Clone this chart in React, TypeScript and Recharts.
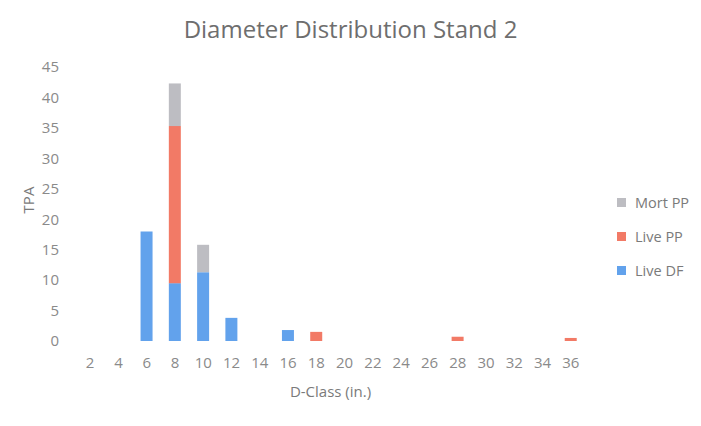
import React from 'react';
import { BarChart, Bar, XAxis, YAxis, Legend } from 'recharts';

const categories = ['2', '4', '6', '8', '10', '12', '14', '16', '18', '20', '22', '24', '26', '28', '30', '32', '34', '36'];
const liveDF = [0, 0, 18, 9.5, 11.3, 3.8, 0, 1.8, 0, 0, 0, 0, 0, 0, 0, 0, 0, 0];
const livePP = [0, 0, 0, 25.8, 0, 0, 0, 0, 1.5, 0, 0, 0, 0, 0.7, 0, 0, 0, 0.5];
const mortPP = [0, 0, 0, 7, 4.5, 0, 0, 0, 0, 0, 0, 0, 0, 0, 0, 0, 0, 0];
const yTicks = [0, 5, 10, 15, 20, 25, 30, 35, 40, 45];

const data = categories.map((c, i) => ({
  dclass: c,
  liveDF: liveDF[i],
  livePP: livePP[i],
  mortPP: mortPP[i],
}));

const FONT = '"Open Sans", "Liberation Sans", sans-serif';
const COLORS = { liveDF: '#62a2ec', livePP: '#f27a66', mortPP: '#bdbdc2' };

const legendItems = [
  { label: 'Mort PP', color: COLORS.mortPP },
  { label: 'Live PP', color: COLORS.livePP },
  { label: 'Live DF', color: COLORS.liveDF },
];

const renderLegend = () => (
  <div style={{ fontFamily: FONT, fontSize: 14.5, color: '#7a7a7a' }}>
    {legendItems.map((it) => (
      <div key={it.label} style={{ display: 'flex', alignItems: 'center', height: 34 }}>
        <span style={{ display: 'inline-block', width: 9, height: 9, background: it.color, marginRight: 9 }} />
        <span>{it.label}</span>
      </div>
    ))}
  </div>
);

export default function App() {
  return (
    <div style={{ position: 'absolute', left: 0, top: 0, width: 701, height: 426, background: '#fff' }}>
      <div
        style={{
          position: 'absolute',
          left: 0,
          top: 12,
          width: 701,
          textAlign: 'center',
          fontFamily: FONT,
          fontSize: 24,
          color: '#6e6e6e',
        }}
      >
        Diameter Distribution Stand 2
      </div>
      <BarChart
        width={701}
        height={426}
        data={data}
        margin={{ top: 67, right: 116, bottom: 25, left: 10 }}
        barCategoryGap={0}
      >
        <XAxis
          dataKey="dclass"
          axisLine={false}
          tickLine={false}
          tickSize={0}
          tickMargin={16}
          height={60}
          interval={0}
          tick={{ fill: '#8a8a8a', fontSize: 15, fontFamily: FONT }}
          label={{ value: 'D-Class (in.)', position: 'insideBottom', offset: 4, fill: '#7a7a7a', fontSize: 15, fontFamily: FONT }}
        />
        <YAxis
          width={66}
          domain={[0, 45]}
          ticks={yTicks}
          interval={0}
          axisLine={false}
          tickLine={false}
          tickSize={0}
          tickMargin={17}
          tick={{ fill: '#8a8a8a', fontSize: 15, fontFamily: FONT }}
          label={{ value: 'TPA', angle: -90, position: 'insideLeft', offset: 19, dy: -4, fill: '#7a7a7a', fontSize: 15, fontFamily: FONT, style: { textAnchor: 'middle' } }}
        />
        <Legend
          layout="vertical"
          align="center"
          verticalAlign="middle"
          wrapperStyle={{ left: 617, top: 185, width: 90 }}
          content={renderLegend}
        />
        <Bar dataKey="liveDF" stackId="a" fill={COLORS.liveDF} barSize={12} isAnimationActive={false} />
        <Bar dataKey="livePP" stackId="a" fill={COLORS.livePP} barSize={12} isAnimationActive={false} />
        <Bar dataKey="mortPP" stackId="a" fill={COLORS.mortPP} barSize={12} isAnimationActive={false} />
      </BarChart>
    </div>
  );
}
